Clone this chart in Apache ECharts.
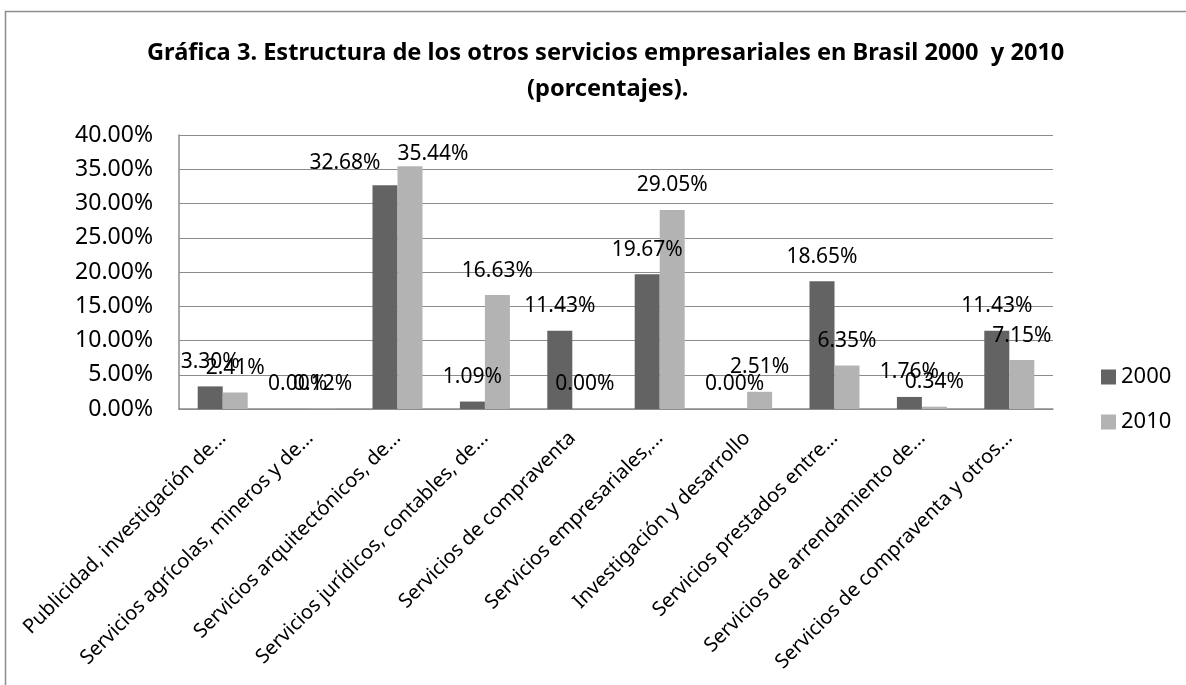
<!DOCTYPE html>
<html>
<head>
<meta charset="utf-8">
<script src="https://cdn.jsdelivr.net/npm/echarts@6/dist/echarts.min.js"></script>
<style>
  html, body { margin: 0; padding: 0; background: #fff; }
  #chart { width: 1186px; height: 685px; }
</style>
</head>
<body>
<div id="chart"></div>
<script>
const categories = [
  'Publicidad, investigación de...',
  'Servicios agrícolas, mineros y de...',
  'Servicios arquitectónicos, de...',
  'Servicios jurídicos, contables, de...',
  'Servicios de compraventa',
  'Servicios empresariales,...',
  'Investigación y desarrollo',
  'Servicios prestados entre...',
  'Servicios de arrendamiento de...',
  'Servicios de compraventa y otros...'
]
const values2000 = [3.30, 0.00, 32.68, 1.09, 11.43, 19.67, 0.00, 18.65, 1.76, 11.43]
const values2010 = [2.41, 0.12, 35.44, 16.63, 0.00, 29.05, 2.51, 6.35, 0.34, 7.15]
const yTicks = { min: 0, max: 40, interval: 5 }
const titleLines = [
  'Gráfica 3. Estructura de los otros servicios empresariales en Brasil 2000  y 2010',
  '(porcentajes).'
]
// labels that were dragged by hand in the original (index -> [dx, dy])
const moved2000 = { 2: [-40, 2] }
const moved2010 = { 2: [23, 12] }

const font = 'Noto Sans'
const chart = echarts.init(document.getElementById('chart'))

const labelCfg = {
  show: true,
  position: 'top',
  distance: 14,
  color: '#000',
  fontFamily: font,
  fontSize: 21,
  formatter: p => p.value.toFixed(2) + '%',
}

const withOffsets = (values, moved) =>
  values.map((v, i) => (moved[i] ? { value: v, label: { offset: moved[i] } } : v))

const titleStyle = {
  fontFamily: font,
  fontWeight: 'bold',
  fontSize: 23.6,
  color: '#000',
}

chart.setOption({
  animation: false,
  title: [
    { text: titleLines[0], left: 142, top: 36, textStyle: titleStyle },
    { text: titleLines[1], left: 522, top: 72, textStyle: titleStyle },
  ],
  graphic: [
    {
      type: 'rect',
      shape: { x: 5.5, y: 11.5, width: 1200, height: 700 },
      style: { fill: 'none', stroke: '#8c8c8c', lineWidth: 1.5 },
      silent: true,
    },
  ],
  legend: {
    orient: 'vertical',
    left: 1096,
    top: 361,
    itemWidth: 15,
    itemHeight: 15,
    itemGap: 23,
    icon: 'rect',
    textStyle: { fontFamily: font, fontSize: 22, color: '#000' },
    data: ['2000', '2010'],
  },
  grid: {
    left: 179,
    right: 133,
    top: 135,
    bottom: 276,
  },
  xAxis: {
    type: 'category',
    data: categories,
    axisLine: { lineStyle: { color: '#8c8c8c', width: 1.5 } },
    axisTick: { show: false },
    axisLabel: {
      interval: 0,
      rotate: 45,
      margin: 26,
      color: '#000',
      fontFamily: font,
      fontSize: 20,
    },
  },
  yAxis: {
    type: 'value',
    min: yTicks.min,
    max: yTicks.max,
    interval: yTicks.interval,
    axisLine: { show: true, lineStyle: { color: '#8c8c8c', width: 1.5 } },
    axisTick: { show: false },
    splitLine: { lineStyle: { color: '#8c8c8c', width: 1.2 } },
    axisLabel: {
      margin: 26,
      color: '#000',
      fontFamily: font,
      fontSize: 23,
      formatter: v => v.toFixed(2) + '%',
    },
  },
  series: [
    {
      name: '2000',
      type: 'bar',
      data: withOffsets(values2000, moved2000),
      barWidth: 25,
      barGap: '0%',
      itemStyle: { color: '#636363' },
      label: labelCfg,
    },
    {
      name: '2010',
      type: 'bar',
      data: withOffsets(values2010, moved2010),
      barWidth: 25,
      barGap: '0%',
      itemStyle: { color: '#b3b3b3' },
      label: labelCfg,
    },
  ],
})
</script>
</body>
</html>
